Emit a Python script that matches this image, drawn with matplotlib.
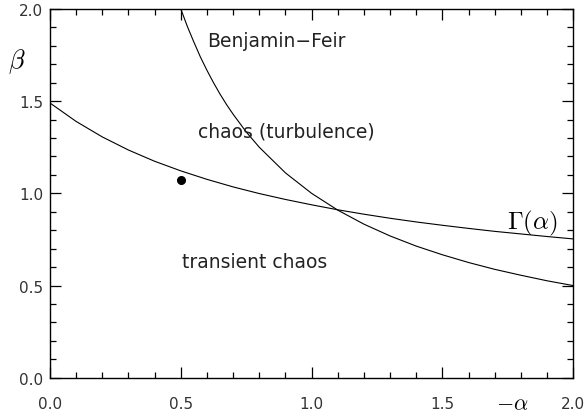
import matplotlib
matplotlib.use("Agg")
import matplotlib.pyplot as plt
from matplotlib.ticker import MultipleLocator, FormatStrFormatter

plt.rcParams["mathtext.fontset"] = "cm"
plt.rcParams["font.family"] = "DejaVu Sans"

# Benjamin-Feir boundary
bf_alpha = [0.5, 0.525, 0.55, 0.575, 0.6, 0.625, 0.65, 0.675, 0.7, 0.75, 0.8, 0.9, 1.0, 1.1, 1.2, 1.3, 1.4, 1.5, 1.6, 1.7, 1.8, 1.9, 2.0]
bf_beta = [2.0, 1.905, 1.82, 1.739, 1.667, 1.6, 1.538, 1.481, 1.429, 1.333, 1.25, 1.111, 1.0, 0.909, 0.833, 0.769, 0.714, 0.667, 0.625, 0.588, 0.556, 0.526, 0.5]

# Gamma(alpha) curve
gam_alpha = [0.0, 0.1, 0.2, 0.3, 0.4, 0.5, 0.6, 0.7, 0.8, 0.9, 1.0, 1.1, 1.2, 1.3, 1.4, 1.5, 1.6, 1.7, 1.8, 1.9, 2.0]
gam_beta = [1.49, 1.39, 1.306, 1.235, 1.174, 1.122, 1.076, 1.035, 0.999, 0.967, 0.938, 0.911, 0.887,
            0.865, 0.845, 0.827, 0.81, 0.794, 0.78, 0.766, 0.753]

# marked point
pt_alpha = [0.5]
pt_beta = [1.073]

fig = plt.figure(figsize=(5.88, 4.14), dpi=100)
ax = fig.add_axes([0.085, 0.085, 0.89, 0.891])

ax.plot(bf_alpha, bf_beta, color="black", lw=0.8)
ax.plot(gam_alpha, gam_beta, color="black", lw=0.8)
ax.plot(pt_alpha, pt_beta, "o", color="black", ms=5.5)

ax.set_xlim(0, 2)
ax.set_ylim(0, 2)
ax.xaxis.set_major_locator(MultipleLocator(0.5))
ax.xaxis.set_minor_locator(MultipleLocator(0.1))
ax.yaxis.set_major_locator(MultipleLocator(0.5))
ax.yaxis.set_minor_locator(MultipleLocator(0.1))
ax.xaxis.set_major_formatter(FormatStrFormatter("%.1f"))
ax.yaxis.set_major_formatter(FormatStrFormatter("%.1f"))
ax.tick_params(which="both", direction="in", top=True, right=True, labelsize=11, color="black",
               labelcolor="#333333")
ax.tick_params(which="major", length=8, width=0.9)
ax.tick_params(which="minor", length=4, width=0.9)
ax.tick_params(axis="x", pad=13)
ax.tick_params(axis="y", pad=5)
for s in ax.spines.values():
    s.set_linewidth(1.0)

ax.text(0.6, 1.827, "Benjamin\u2212Feir", fontsize=13.5, va="center", ha="left", color="#222222")
ax.text(0.566, 1.339, "chaos (turbulence)", fontsize=13.5, va="center", ha="left", color="#222222")
ax.text(0.505, 0.629, "transient chaos", fontsize=13.5, va="center", ha="left", color="#222222")
ax.text(1.845, 0.84, r"$\Gamma(\alpha)$", fontsize=18, va="center", ha="center")

fig.text(17 / 588, 1 - 62 / 414, r"$\beta$", fontsize=19, ha="center", va="center")
fig.text(512 / 588, 1 - 404 / 414, r"$-\alpha$", fontsize=16, ha="center", va="center")

plt.savefig("out.png", dpi=100)
